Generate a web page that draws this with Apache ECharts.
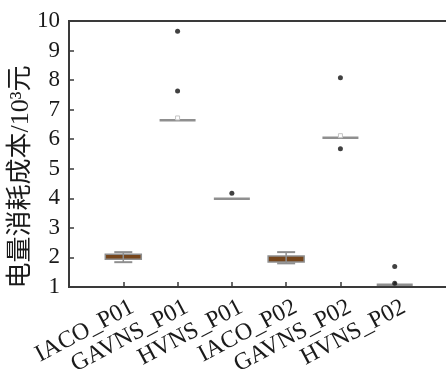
<!DOCTYPE html>
<html><head><meta charset="utf-8">
<script src="https://cdn.jsdelivr.net/npm/echarts@6/dist/echarts.min.js"></script>
<style>html,body{margin:0;padding:0;background:#fff}#c{width:446px;height:382px}</style>
</head><body><div id="c"></div>
<script>
var categories = ['IACO_P01','GAVNS_P01','HVNS_P01','IACO_P02','GAVNS_P02','HVNS_P02'];
var lowWhisker = [1.84, 6.64, 3.99, 1.80, 6.05, 1.08];
var q1 =         [1.94, 6.64, 3.99, 1.85, 6.05, 1.08];
var median =     [2.02, 6.64, 3.99, 1.95, 6.05, 1.08];
var q3 =         [2.11, 6.64, 3.99, 2.05, 6.05, 1.08];
var highWhisker =[2.18, 6.64, 3.99, 2.18, 6.05, 1.08];
var means =      [null, 6.72, null, null, 6.12, null];
var outlierCat = [2, 2, 3, 5, 5, 6, 6];
var outlierVal = [9.65, 7.63, 4.17, 8.08, 5.68, 1.69, 1.13];
var yTicks = [1,2,3,4,5,6,7,8,9,10];

var boxData = categories.map(function(c,i){
  return [i+1, lowWhisker[i], q1[i], median[i], q3[i], highWhisker[i], means[i] == null ? NaN : means[i]];
});
var outData = outlierCat.map(function(c,i){ return [c, outlierVal[i]]; });

var chart = echarts.init(document.getElementById('c'));
var serif = 'Liberation Serif';
chart.setOption({
  animation: false,
  grid: {left: 69, right: -3, top: 21, bottom: 95, containLabel: false, outerBoundsMode: 'none',
         show: true, borderColor: '#3a3a3a', borderWidth: 2},
  xAxis: [{
    type: 'value', min: 0, max: 7, interval: 1,
    axisLine: {show: true, lineStyle: {color: '#3a3a3a', width: 2}},
    axisTick: {show: true, inside: true, length: 5, lineStyle: {color: '#3a3a3a', width: 1.5}},
    splitLine: {show: false},
    axisLabel: {
      show: true, rotate: 28, margin: 10, align: 'right', verticalAlign: 'top',
      padding: [0, -4, 0, 0],
      fontFamily: serif, fontSize: 24, color: '#1a1a1a',
      formatter: function(v){ var k = Math.round(v); return (k>=1 && k<=categories.length) ? categories[k-1] : ''; }
    }
  }],
  yAxis: {
    type: 'value', min: yTicks[0], max: yTicks[yTicks.length-1], interval: 1,
    name: '电量消耗成本/10³元', nameLocation: 'middle', nameGap: 35, nameRotate: 90, nameMoveOverlap: false,
    nameTextStyle: {fontFamily: 'Liberation Serif, Noto Sans CJK SC', fontSize: 26, color: '#1a1a1a', padding: [0, 46, 0, 0]},
    axisLine: {show: true, lineStyle: {color: '#3a3a3a', width: 2}},
    axisTick: {show: true, inside: true, length: 5, lineStyle: {color: '#3a3a3a', width: 1.5}},
    splitLine: {show: false},
    axisLabel: {margin: 9, fontFamily: serif, fontSize: 23, color: '#1a1a1a'}
  },
  series: [{
    type: 'custom',
    data: boxData,
    encode: {x: 0, y: [1,2,3,4,5]},
    renderItem: function(params, api){
      var x = api.value(0);
      var pLo = api.coord([x, api.value(1)]);
      var pQ1 = api.coord([x, api.value(2)]);
      var pMed = api.coord([x, api.value(3)]);
      var pQ3 = api.coord([x, api.value(4)]);
      var pHi = api.coord([x, api.value(5)]);
      var cx = pMed[0];
      var bw = 36, cw = 18;
      var gray = '#8f8f8f';
      var children = [];
      var h = pQ1[1] - pQ3[1];
      if (h > 1) {
        children.push({type: 'rect', shape: {x: cx - bw/2, y: pQ3[1], width: bw, height: h},
          style: {fill: '#76461c', stroke: gray, lineWidth: 1.5}});
        children.push({type: 'line', shape: {x1: cx, y1: pHi[1], x2: cx, y2: pLo[1]}, style: {stroke: gray, lineWidth: 1.5}});
        children.push({type: 'line', shape: {x1: cx - cw/2, y1: pHi[1], x2: cx + cw/2, y2: pHi[1]}, style: {stroke: gray, lineWidth: 2}});
        children.push({type: 'line', shape: {x1: cx - cw/2, y1: pLo[1], x2: cx + cw/2, y2: pLo[1]}, style: {stroke: gray, lineWidth: 2}});
      } else {
        children.push({type: 'line', shape: {x1: cx - bw/2, y1: pMed[1], x2: cx + bw/2, y2: pMed[1]}, style: {stroke: gray, lineWidth: 2.5}});
      }
      var m = api.value(6);
      if (!isNaN(m)) {
        var pm = api.coord([x, m]);
        children.push({type: 'rect', shape: {x: pm[0]-2, y: pm[1]-2, width: 4, height: 4}, style: {fill: '#fff', stroke: '#c4c4c4', lineWidth: 1}});
      }
      return {type: 'group', children: children};
    },
    z: 2
  }, {
    type: 'scatter',
    data: outData,
    symbol: 'circle', symbolSize: 5,
    itemStyle: {color: '#111'},
    z: 3
  }]
});
</script></body></html>
